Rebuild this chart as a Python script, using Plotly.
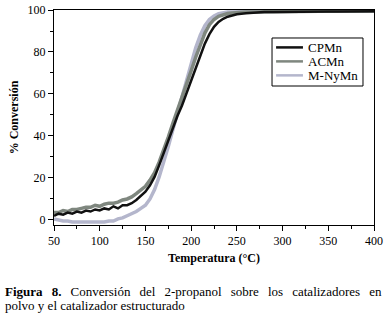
import plotly.graph_objects as go

temperature = [50, 55, 60, 65, 70, 75, 80, 85, 90, 95, 100, 105, 110, 115, 120, 125, 130, 135,
               140, 145, 150, 155, 160, 165, 170, 175, 180, 185, 190, 195, 200, 205, 210, 215,
               220, 225, 230, 235, 240, 245, 250, 260, 270, 280, 290, 300, 310, 320, 330, 340,
               350, 360, 370, 380, 390, 400]

cpmn = [2.0, 3.0, 2.5, 3.5, 3.0, 4.0, 3.5, 4.5, 4.0, 5.0, 4.5, 5.5, 5.0, 6.5, 5.5, 7.0, 7.0, 8.0,
        9.5, 11.5, 13.5, 16.5, 20.5, 26.0, 32.0, 38.5, 44.5, 49.5, 54.5, 60.5, 66.5, 72.5, 78.5, 84.0,
        88.5, 92.0, 94.3, 95.8, 96.8, 97.5, 98.0, 98.5, 98.8, 99.0, 99.0, 99.1, 99.1, 99.2, 99.2, 99.2,
        99.3, 99.3, 99.3, 99.3, 99.4, 99.4]

acmn = [3.5, 3.5, 4.5, 4.0, 5.0, 5.0, 5.5, 6.0, 6.0, 7.0, 6.5, 7.5, 8.0, 8.0, 8.5, 9.5, 10.0, 11.0,
        12.5, 14.0, 16.0, 19.0, 22.5, 27.5, 33.0, 39.5, 46.0, 52.0, 58.0, 64.5, 71.0, 77.5, 83.5, 89.0,
        93.0, 95.5, 97.0, 97.8, 98.3, 98.6, 98.8, 99.0, 99.1, 99.2, 99.2, 99.3, 99.3, 99.3, 99.4, 99.4,
        99.4, 99.4, 99.5, 99.5, 99.5, 99.5]

mnymn = [0.5, 0.0, -0.5, -0.5, -1.0, -1.0, -1.0, -1.0, -1.0, -1.0, -1.0, -1.0, -0.5, -0.5, 0.5, 1.0,
         2.0, 3.0, 4.0, 5.5, 7.0, 10.0, 14.5, 20.5, 27.5, 35.0, 43.0, 51.0, 59.0, 67.0, 75.0, 82.0,
         88.0, 92.5, 95.5, 97.2, 98.2, 98.7, 99.0, 99.1, 99.2, 99.3, 99.3, 99.3, 99.4, 99.4, 99.4,
         99.4, 99.4, 99.5, 99.5, 99.5, 99.5, 99.5, 99.5, 99.5]

series_names = ["CPMn", "ACMn", "M-NyMn"]
series_colors = ["#111111", "#7f877f", "#b4b6cc"]
x_ticks = [50, 100, 150, 200, 250, 300, 350, 400]
y_ticks = [0, 20, 40, 60, 80, 100]

FONT = "'Liberation Serif', 'Times New Roman', serif"

fig = go.Figure()
fig.add_trace(go.Scatter(x=temperature, y=mnymn, name=series_names[2], mode="lines",
                         line=dict(color=series_colors[2], width=3.5), showlegend=False))
fig.add_trace(go.Scatter(x=temperature, y=acmn, name=series_names[1], mode="lines",
                         line=dict(color=series_colors[1], width=3.5), showlegend=False))
fig.add_trace(go.Scatter(x=temperature, y=cpmn, name=series_names[0], mode="lines",
                         line=dict(color=series_colors[0], width=2.5), showlegend=False))

fig.update_layout(
    width=386, height=314,
    margin=dict(l=54, r=12, t=10, b=89, autoexpand=False),
    paper_bgcolor="white", plot_bgcolor="white",
    font=dict(family=FONT, size=12, color="black"),
    showlegend=False,
    xaxis=dict(range=[50, 400], tickvals=x_ticks, ticks="outside", ticklen=5, tickcolor="black",
               showline=True, linecolor="black", linewidth=1, mirror=True, showgrid=False,
               zeroline=False, tickfont=dict(family=FONT, size=12), automargin=False,
               minor=dict(dtick=25, tick0=50, ticks="outside", ticklen=3, tickcolor="black"),
               title=dict(text="<b>Temperatura (°C)</b>", font=dict(family=FONT, size=12), standoff=6)),
    yaxis=dict(range=[-2.4, 100], tickvals=y_ticks, ticks="outside", ticklen=5, tickcolor="black",
               showline=True, linecolor="black", linewidth=1, mirror=True, showgrid=False,
               zeroline=False, tickfont=dict(family=FONT, size=12), automargin=False,
               minor=dict(dtick=10, tick0=0, ticks="outside", ticklen=3, tickcolor="black"),
               title=dict(text="<b>% Conversión</b>", font=dict(family=FONT, size=12), standoff=6)),
)

# legend box (drawn to match the reference's compact legend)
lx0, lx1, ly0, ly1 = 0.6813, 0.9656, 0.6465, 0.8698
fig.add_shape(type="rect", xref="paper", yref="paper", x0=lx0, x1=lx1, y0=ly0, y1=ly1,
              line=dict(color="black", width=1), fillcolor="white", layer="above")
entry_y = [0.826, 0.761, 0.696]
for name, color, yy in zip(series_names, series_colors, entry_y):
    fig.add_shape(type="line", xref="paper", yref="paper", x0=0.694, x1=0.778, y0=yy, y1=yy,
                  line=dict(color=color, width=2.5), layer="above")
    fig.add_annotation(xref="paper", yref="paper", x=0.788, y=yy, xanchor="left", yanchor="middle",
                       text=name, showarrow=False, font=dict(family=FONT, size=13, color="black"))

# caption, first line spread to emulate the justified text of the reference
gap = "\u2002\u2009"
line1_words = ["<b>Figura", "8.</b>", "Conversión", "del", "2-propanol", "sobre", "los",
               "catalizadores", "en"]
fig.add_annotation(
    xref="paper", yref="paper", x=-0.1594, y=-0.3116, xanchor="left", yanchor="middle",
    align="left", showarrow=False,
    text=gap.join(line1_words),
    font=dict(family=FONT, size=13, color="black"),
)
fig.add_annotation(
    xref="paper", yref="paper", x=-0.1594, y=-0.3767, xanchor="left", yanchor="middle",
    align="left", showarrow=False,
    text="polvo y el catalizador estructurado",
    font=dict(family=FONT, size=13, color="black"),
)

fig.write_html("out.html", config={"displayModeBar": False},
               post_script="document.body.style.margin='0';document.body.style.overflow='hidden';")
